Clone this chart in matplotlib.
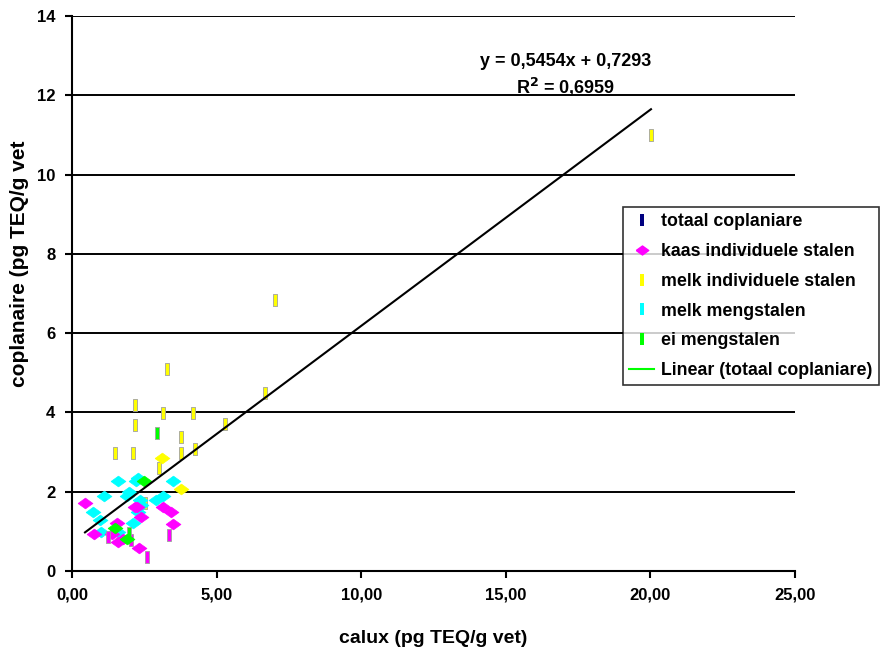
import matplotlib.pyplot as plt
from matplotlib.lines import Line2D
import numpy as np

plt.rcParams["font.family"] = ["Liberation Sans", "DejaVu Sans"]
plt.rcParams["font.weight"] = "bold"

# kaas individuele stalen (magenta)
kaas_x = [0.45, 2.24, 2.39, 3.14, 3.41, 3.50, 1.54, 0.76, 1.23, 1.37, 1.60, 1.75, 2.04, 3.37, 2.33, 2.60, 2.18]
kaas_y = [1.71, 1.61, 1.37, 1.61, 1.48, 1.19, 1.20, 0.93, 0.87, 0.93, 0.74, 0.80, 0.78, 0.91, 0.57, 0.35, 1.62]
kaas_bar = [8, 12, 13, 15]

# melk individuele stalen (yellow)
melk_x = [20.02, 7.02, 6.67, 5.29, 2.19, 3.16, 4.20, 2.19, 3.78, 1.50, 2.12, 3.78, 4.27, 3.10, 3.02, 3.28, 3.77, 2.52]
melk_y = [11.00, 6.84, 4.49, 3.71, 4.19, 3.98, 3.98, 3.68, 3.37, 2.97, 2.97, 2.97, 3.07, 2.86, 2.60, 5.10, 2.07, 1.71]
melk_diamond = [13, 16]

# melk mengstalen (cyan)
meng_x = [1.58, 2.29, 2.21, 3.48, 1.12, 1.98, 1.91, 3.14, 2.90, 2.35, 2.37, 0.71, 2.29, 0.97, 2.12, 1.00, 1.60]
meng_y = [2.28, 2.34, 2.28, 2.28, 1.89, 2.00, 1.89, 1.89, 1.79, 1.79, 1.67, 1.50, 1.50, 1.29, 1.20, 0.99, 0.99]

# ei mengstalen (green)
ei_x = [2.95, 2.49, 1.49, 1.89, 1.98]
ei_y = [3.47, 2.28, 1.08, 0.80, 0.95]
ei_diamond = [1, 2, 3]

slope, intercept = 0.5454, 0.7293

x_ticks = [0, 5, 10, 15, 20, 25]
y_ticks = [0, 2, 4, 6, 8, 10, 12, 14]

# excel-like markers: flat diamond and small upright bar
DIAMOND = [(-1.0, 0.0), (0.0, 0.72), (1.0, 0.0), (0.0, -0.72), (-1.0, 0.0)]
BAR = [(-0.28, -1.0), (0.28, -1.0), (0.28, 1.0), (-0.28, 1.0), (-0.28, -1.0)]


def draw_series(ax, xs, ys, color, base, alt_idx):
    xs = np.asarray(xs)
    ys = np.asarray(ys)
    alt = np.zeros(len(xs), dtype=bool)
    alt[alt_idx] = True
    kw_d = dict(marker=DIAMOND, s=115, color=color, edgecolors=color, linewidths=0.5, zorder=4)
    kw_b = dict(marker=BAR, s=85, color=color, edgecolors="#a0a0a0", linewidths=0.6, zorder=4)
    first, second = (kw_d, kw_b) if base == "D" else (kw_b, kw_d)
    ax.scatter(xs[~alt], ys[~alt], **first)
    ax.scatter(xs[alt], ys[alt], **second)


fig = plt.figure(figsize=(8.81, 6.55), dpi=100)
ax = fig.add_axes([0.0817, 0.1282, 0.8207, 0.8474])

for yv in y_ticks[1:]:
    ax.axhline(yv, color="black", lw=1.4, zorder=1)

all_x = kaas_x + melk_x + meng_x + ei_x
all_y = kaas_y + melk_y + meng_y + ei_y
# totaal series sits underneath all the coloured ones
ax.scatter(all_x, all_y, marker=BAR, s=30, color="#000080", linewidths=0, zorder=2)

draw_series(ax, melk_x, melk_y, "#ffff00", "|", melk_diamond)
draw_series(ax, meng_x, meng_y, "#00ffff", "D", [])
draw_series(ax, kaas_x, kaas_y, "#ff00ff", "D", kaas_bar)
draw_series(ax, ei_x, ei_y, "#00ff00", "|", ei_diamond)

lx = np.array([min(all_x), max(all_x)])
ax.plot(lx, slope * lx + intercept, color="black", lw=1.5, zorder=5)

ax.text(17.08, 12.85, "y = 0,5454x + 0,7293", ha="center", va="center", fontsize=13, fontweight="bold")
ax.text(17.08, 12.2, "R$^{\\mathbf{2}}$ = 0,6959", ha="center", va="center", fontsize=13, fontweight="bold")

ax.set_xlim(0, 25)
ax.set_ylim(0, 14)
ax.set_xticks(x_ticks)
ax.set_xticklabels([f"{v:.2f}".replace(".", ",") for v in x_ticks])
ax.set_yticks(y_ticks)
ax.set_yticklabels([str(v) for v in y_ticks])
ax.tick_params(direction="out", length=5, width=1.5, labelsize=12, pad=7)
for lab in ax.get_xticklabels() + ax.get_yticklabels():
    lab.set_fontweight("bold")
for side in ("top", "right"):
    ax.spines[side].set_visible(False)
for side in ("left", "bottom"):
    ax.spines[side].set_linewidth(1.5)

ax.set_xlabel("calux (pg TEQ/g vet)", fontsize=14, fontweight="bold", labelpad=20)
fig.text(0.022, 0.598, "coplanaire (pg TEQ/g vet", rotation=90, ha="center", va="center",
         fontsize=15, fontweight="bold")

handles = [
    Line2D([], [], marker=BAR, ls="none", color="#000080", markersize=9, markeredgewidth=0),
    Line2D([], [], marker=DIAMOND, ls="none", color="#ff00ff", markersize=9),
    Line2D([], [], marker=BAR, ls="none", color="#ffff00", markersize=9, markeredgewidth=0),
    Line2D([], [], marker=BAR, ls="none", color="#00ffff", markersize=9, markeredgewidth=0),
    Line2D([], [], marker=BAR, ls="none", color="#00ff00", markersize=9, markeredgewidth=0),
    Line2D([], [], color="#00ff00", lw=1.5),
]
labels = ["totaal coplaniare", "kaas individuele stalen", "melk individuele stalen",
          "melk mengstalen", "ei mengstalen", "Linear (totaal coplaniare)"]
leg = fig.legend(handles, labels, loc="upper left", bbox_to_anchor=(623 / 881, 1 - 207 / 655),
                 frameon=True, fancybox=False, edgecolor="black",
                 handlelength=1.4, handletextpad=0.4, labelspacing=0.72,
                 borderpad=0.35, borderaxespad=0.0,
                 prop={"weight": "bold", "size": 12.8})
leg.get_frame().set_linewidth(1.2)

fig.savefig("out.png", dpi=100)
